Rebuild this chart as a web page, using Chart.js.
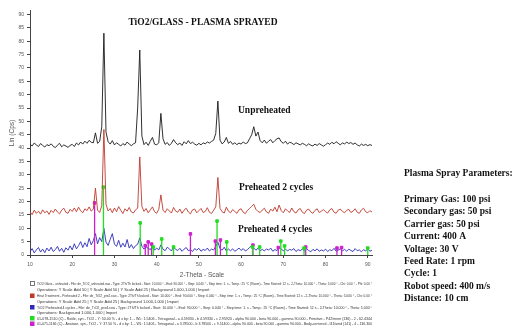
<!DOCTYPE html>
<html>
<head>
<meta charset="utf-8">
<style>
  html, body { margin: 0; padding: 0; background: #fff; }
  #wrap { width: 512px; height: 329px; position: relative; }
</style>
<script src="https://cdn.jsdelivr.net/npm/chart.js@4.4.1/dist/chart.umd.min.js"></script>
</head>
<body>
<div id="wrap"><canvas id="xrd" width="512" height="329"></canvas></div>
<script>
// 2-theta positions of the scan (degrees)
const angles = [
  10, 10.5, 11, 11.5, 12, 12.5, 13, 13.5, 14, 14.5,
  15, 15.5, 16, 16.5, 17, 17.5, 18, 18.5, 19, 19.5,
  20, 20.5, 21, 21.5, 22, 22.5, 23, 23.5, 24, 24.5,
  25, 25.5, 26, 26.5, 27, 27.5, 28, 28.5, 29, 29.5,
  30, 30.5, 31, 31.5, 32, 32.5, 33, 33.5, 34, 34.5,
  35, 35.5, 36, 36.5, 37, 37.5, 38, 38.5, 39, 39.5,
  40, 40.5, 41, 41.5, 42, 42.5, 43, 43.5, 44, 44.5,
  45, 45.5, 46, 46.5, 47, 47.5, 48, 48.5, 49, 49.5,
  50, 50.5, 51, 51.5, 52, 52.5, 53, 53.5, 54, 54.5,
  55, 55.5, 56, 56.5, 57, 57.5, 58, 58.5, 59, 59.5,
  60, 60.5, 61, 61.5, 62, 62.5, 63, 63.5, 64, 64.5,
  65, 65.5, 66, 66.5, 67, 67.5, 68, 68.5, 69, 69.5,
  70, 70.5, 71, 71.5, 72, 72.5, 73, 73.5, 74, 74.5,
  75, 75.5, 76, 76.5, 77, 77.5, 78, 78.5, 79, 79.5,
  80, 80.5, 81, 81.5, 82, 82.5, 83, 83.5, 84, 84.5,
  85, 85.5, 86, 86.5, 87, 87.5, 88, 88.5, 89, 89.5,
  90, 90.5, 91
];

// Lin (Cps), patterns already offset as in the plot
const unpreheated = [
  41.5, 40.8, 41.9, 41.2, 40.6, 41.7, 41.0, 40.4, 41.3, 40.9,
  41.6, 40.7, 40.2, 41.1, 41.8, 40.5, 41.2, 40.8, 40.3, 41.0,
  41.4, 40.6, 41.9, 41.2, 42.3, 41.5, 42.6, 41.8, 42.9, 42.2,
  42.0, 45.7, 41.8, 42.5, 48.0, 83.0, 46.0, 42.4, 41.5, 42.8,
  41.2, 42.0, 41.4, 40.8, 41.7, 41.1, 42.3, 41.5, 40.9, 41.6,
  42.0, 55.0, 76.7, 44.5, 41.3, 42.2, 41.0, 42.6, 44.0, 41.5,
  41.2, 42.0, 53.0, 43.5, 41.4, 42.1, 41.0, 41.8, 43.2, 42.0,
  41.3, 41.9, 41.0, 42.4, 41.6, 42.8, 41.7, 42.2, 41.5, 41.1,
  41.8, 41.2, 42.0, 41.6, 42.3, 41.9, 42.5, 43.0, 45.5, 57.6,
  43.0, 41.6, 42.3, 44.0, 41.8, 42.5, 41.4, 42.0, 41.3, 41.9,
  41.5, 42.3, 41.7, 42.0, 43.5, 45.0, 48.0, 44.5, 46.0, 42.8,
  42.0, 43.0, 41.8, 42.6, 43.2, 42.0, 42.8, 43.5, 43.8, 42.4,
  41.8, 42.6, 41.5, 42.2, 41.9, 41.3, 42.0, 41.6, 41.2, 41.8,
  41.4, 40.9, 41.6, 41.1, 40.8, 41.5, 41.0, 41.7, 41.2, 40.7,
  41.3, 41.9, 41.4, 42.2, 41.6, 42.4, 41.8, 41.2, 42.0, 41.5,
  42.3, 41.7, 42.1, 41.4, 41.9, 41.2, 40.8, 41.5, 41.0, 41.4,
  40.9, 41.3, 41.0
];

const preheated2 = [
  16.2, 15.1, 16.8, 15.6, 16.4, 15.3, 16.9, 15.8, 16.5, 15.2,
  16.7, 15.9, 17.2, 16.1, 15.4, 16.8, 17.5, 16.0, 15.6, 17.1,
  16.3, 17.6, 16.2, 17.9, 16.5, 15.8, 17.3, 16.6, 18.0, 16.4,
  17.2, 25.0, 16.8, 15.9, 18.5, 47.0, 19.0, 16.5, 17.4, 15.8,
  17.6, 16.2, 18.1, 16.7, 15.5, 17.3, 16.4, 17.8, 16.1, 15.7,
  16.9, 17.5, 36.7, 18.2, 16.3, 17.4, 15.8, 16.9, 18.0, 16.2,
  15.6, 17.1, 22.5, 16.8, 15.9, 17.3, 16.5, 15.7, 17.8, 16.4,
  16.0, 17.2, 15.6, 16.8, 17.5, 16.1, 15.4, 16.9, 17.2, 15.8,
  16.6, 17.4, 15.9, 16.3, 17.7, 16.0, 15.5, 16.8, 18.0, 29.0,
  17.5, 16.2, 15.7, 17.9, 16.4, 15.8, 17.0, 16.3, 15.6, 16.9,
  17.3, 16.0, 15.5, 16.7, 17.4, 18.2, 19.0, 17.1, 16.3, 15.9,
  16.8, 17.5, 16.1, 15.6, 17.2, 16.4, 17.9, 16.2, 18.7, 16.6,
  15.8, 17.3, 16.5, 15.9, 17.6, 16.2, 15.7, 16.9, 17.4, 16.0,
  15.5, 16.8, 17.2, 16.1, 15.6, 16.7, 17.3, 15.9, 16.4, 17.0,
  16.2, 15.7, 16.9, 17.4, 16.0, 15.6, 16.8, 17.2, 16.3, 15.8,
  16.7, 17.1, 15.9, 16.4, 17.3, 16.0, 15.6, 16.9, 17.5, 16.2,
  15.8, 16.6, 16.1
];

const preheated4 = [
  1.2, 2.4, 0.8, 1.9, 2.8, 1.1, 2.2, 0.9, 2.6, 1.5,
  2.9, 1.3, 2.0, 3.2, 1.4, 2.5, 1.0, 2.7, 1.8, 3.4,
  1.9, 4.2, 2.3, 3.5, 5.0, 2.8, 4.6, 3.1, 6.2, 3.8,
  5.4, 8.0, 4.2, 6.5, 5.0, 10.0, 4.8, 3.6, 5.9, 8.0,
  4.1, 3.2, 5.5, 2.9, 4.4, 3.0, 5.8, 2.6, 3.9, 2.4,
  3.5, 4.0, 6.4, 3.3, 2.2, 3.0, 2.5, 2.0, 3.4, 1.8,
  2.6, 1.9, 3.8, 2.2, 1.6, 2.9, 2.3, 1.5, 3.0, 2.1,
  1.7, 2.5, 1.4, 2.2, 2.8, 1.6, 2.0, 1.3, 2.4, 1.8,
  2.5, 1.4, 2.1, 1.7, 2.6, 1.5, 2.2, 1.9, 3.2, 4.8,
  2.4, 1.8, 2.9, 1.5, 2.2, 1.6, 2.3, 1.4, 1.9, 2.6,
  1.7, 2.4, 1.5, 2.0, 2.8, 3.5, 2.6, 1.8, 2.5, 1.6,
  2.1, 1.5, 2.3, 1.8, 2.6, 1.4, 2.0, 1.7, 2.9, 2.2,
  1.6, 2.3, 1.5, 2.1, 1.8, 2.4, 1.3, 2.0, 1.6, 2.2,
  1.5, 2.4, 1.7, 1.2, 2.1, 1.6, 2.3, 1.4, 1.9, 1.5,
  2.2, 1.3, 2.0, 1.6, 2.5, 1.4, 1.8, 2.3, 1.5, 2.1,
  1.4, 2.2, 1.7, 1.3, 2.4, 1.6, 1.9, 1.2, 2.0, 1.5,
  2.3, 1.4, 1.8
];

// reference pattern sticks (phase ID)
const rutileAngles = [27.4, 36.1, 39.2, 41.2, 44.0, 54.3, 56.6, 62.7, 64.4, 69.4, 70.3, 74.9, 90.0];
const rutileHeights = [25.4, 12.0, 3.0, 6.0, 3.0, 12.7, 4.9, 3.0, 3.0, 5.2, 3.4, 2.6, 2.6];
const anataseAngles = [25.3, 37.3, 38.0, 38.8, 48.0, 53.9, 55.1, 62.8, 68.8, 75.3, 82.7, 83.8];
const anataseHeights = [19.5, 3.5, 4.9, 4.1, 7.9, 5.2, 5.6, 3.7, 2.8, 3.0, 2.6, 2.8];

const xTicks = [10, 20, 30, 40, 50, 60, 70, 80, 90];
const yTicks = [0, 5, 10, 15, 20, 25, 30, 35, 40, 45, 50, 55, 60, 65, 70, 75, 80, 85, 90];

const chartTitle = 'TiO2/GLASS - PLASMA SPRAYED';
const seriesLabels = ['Unpreheated', 'Preheated 2 cycles', 'Preheated 4 cycles'];
const paramTitle = 'Plasma Spray Parameters:';
const paramLines = [
  'Primary Gas: 100 psi',
  'Secondary gas: 50 psi',
  'Carrier gas: 50 psi',
  'Current: 400 A',
  'Voltage: 30 V',
  'Feed Rate: 1 rpm',
  'Cycle: 1',
  'Robot speed: 400 m/s',
  'Distance: 10 cm'
];
const legendRows = [
  ['TiO2 Glass - unheated - File: de_TiO2_unheated.raw - Type: 2Th/Th locked - Start: 10.000 ° - End: 90.000 ° - Step: 0.040 ° - Step time: 1. s - Temp.: 25 °C (Room) - Time Started: 12 s - 2-Theta: 10.000 ° - Theta: 5.000 ° - Chi: 0.00 ° - Phi: 0.00 °', '#777', true],
  ['Operations: Y Scale Add 50 | Y Scale Add 50 | Y Scale Add 25 | Background 1.000,1.000 | Import', null, false],
  ['Heat Treatment - Preheated 2 - File: de_TiO2_pre2.raw - Type: 2Th/Th locked - Start: 10.000 ° - End: 90.000 ° - Step: 0.040 ° - Step time: 1. s - Temp.: 25 °C (Room) - Time Started: 12 s - 2-Theta: 10.000 ° - Theta: 5.000 ° - Chi: 0.00 °', '#c0392b', false],
  ['Operations: Y Scale Add 25 | Y Scale Add 25 | Background 1.000,1.000 | Import', null, false],
  ['TiO2 Preheated 4 cycles - File: de_TiO2_pre4.raw - Type: 2Th/Th locked - Start: 10.000 ° - End: 90.000 ° - Step: 0.040 ° - Step time: 1. s - Temp.: 25 °C (Room) - Time Started: 12 s - 2-Theta: 10.000 ° - Theta: 5.000 °', '#2b2bb8', false],
  ['Operations: Background 1.000,1.000 | Import', null, false],
  ['01-078-1510 (C) - Rutile, syn - TiO2 - Y: 50.00 % - d x by: 1. - WL: 1.5406 - Tetragonal - a 4.59330 - b 4.59330 - c 2.95920 - alpha 90.000 - beta 90.000 - gamma 90.000 - Primitive - P42/mnm (136) - 2 - 62.4344', '#22dd22', false],
  ['01-071-1166 (C) - Anatase, syn - TiO2 - Y: 37.50 % - d x by: 1. - WL: 1.5406 - Tetragonal - a 3.78500 - b 3.78500 - c 9.51400 - alpha 90.000 - beta 90.000 - gamma 90.000 - Body-centered - I41/amd (141) - 4 - 136.300', '#cc22cc', false]
];

function points(xs, ys) {
  return xs.map((x, i) => ({ x: x, y: ys[i] }));
}
function sticks(xs, ys) {
  const out = [];
  xs.forEach((x, i) => {
    out.push({ x: x, y: 0 }, { x: x, y: ys[i] }, { x: x, y: null });
  });
  return out;
}

const textPlugin = {
  id: 'xrdText',
  afterDraw(chart) {
    const ctx = chart.ctx;
    ctx.save();
    ctx.fillStyle = '#111';
    ctx.textBaseline = 'alphabetic';
    ctx.font = 'bold 9.5px "Liberation Serif"';
    ctx.textAlign = 'center';
    ctx.fillText(chartTitle, 203, 25);
    ctx.textAlign = 'left';
    ctx.fillText(seriesLabels[0], 238, 113);
    ctx.fillText(seriesLabels[1], 239, 190);
    ctx.fillText(seriesLabels[2], 238, 232);

    ctx.fillText(paramTitle, 404, 176);
    paramLines.forEach((t, i) => ctx.fillText(t, 404, 202 + i * 12.4));

    // axis titles
    ctx.fillStyle = '#555';
    ctx.font = '6.5px "Liberation Sans"';
    ctx.textAlign = 'center';
    ctx.textBaseline = 'middle';
    ctx.fillText('2-Theta - Scale', 202, 275);
    ctx.save();
    ctx.translate(12, 133);
    ctx.rotate(-Math.PI / 2);
    ctx.fillText('Lin (Cps)', 0, 0);
    ctx.restore();

    // instrument legend
    ctx.textAlign = 'left';
    ctx.font = '4px "Liberation Sans"';
    const ys = [284, 290, 296, 302, 307.5, 313, 318.5, 324];
    legendRows.forEach((row, i) => {
      const y = ys[i];
      if (row[1]) {
        if (row[2]) {
          ctx.strokeStyle = '#555';
          ctx.lineWidth = 0.8;
          ctx.strokeRect(30.5, y - 2.5, 4, 4);
        } else {
          ctx.fillStyle = row[1];
          ctx.fillRect(30, y - 2.5, 4.5, 4.5);
        }
      }
      ctx.fillStyle = '#333';
      const maxW = row[1] ? 335 : 220;
      ctx.fillText(row[0], 37, y, maxW);
    });
    ctx.restore();
  }
};

new Chart(document.getElementById('xrd'), {
  type: 'line',
  data: {
    datasets: [
      { label: 'Unpreheated', data: points(angles, unpreheated), borderColor: '#1a1a1a', borderWidth: 0.9, pointRadius: 0, tension: 0 },
      { label: 'Preheated 2 cycles', data: points(angles, preheated2), borderColor: '#c0392b', borderWidth: 0.9, pointRadius: 0, tension: 0 },
      { label: 'Rutile tops', data: points(rutileAngles, rutileHeights), showLine: false, pointStyle: 'rect', pointRadius: 1.8, pointBackgroundColor: '#22dd22', pointBorderColor: '#22dd22' },
      { label: 'Anatase tops', data: points(anataseAngles, anataseHeights), showLine: false, pointStyle: 'rect', pointRadius: 1.8, pointBackgroundColor: '#cc22cc', pointBorderColor: '#cc22cc' },
      { label: 'Rutile', data: sticks(rutileAngles, rutileHeights), borderColor: '#22dd22', borderWidth: 1.3, pointRadius: 0, spanGaps: false },
      { label: 'Anatase', data: sticks(anataseAngles, anataseHeights), borderColor: '#cc22cc', borderWidth: 1.3, pointRadius: 0, spanGaps: false },
      { label: 'Preheated 4 cycles', data: points(angles, preheated4), borderColor: '#2b2bb8', borderWidth: 0.9, pointRadius: 0, tension: 0 }
    ]
  },
  options: {
    responsive: false,
    animation: false,
    events: [],
    layout: { padding: { left: 0, right: 140, top: 10.5, bottom: 0 } },
    plugins: { legend: { display: false }, tooltip: { enabled: false }, title: { display: false } },
    scales: {
      x: {
        type: 'linear',
        min: 10,
        max: 91,
        afterBuildTicks(scale) { scale.ticks = xTicks.map(v => ({ value: v })); },
        afterFit(scale) { scale.height = 74; },
        border: { display: true, color: '#444', width: 1 },
        grid: { drawOnChartArea: false, color: '#444', tickLength: 3 },
        ticks: { color: '#555', font: { size: 5, family: 'Liberation Sans' }, padding: 4, maxRotation: 0 }
      },
      y: {
        type: 'linear',
        min: 0,
        max: 91.5,
        afterBuildTicks(scale) { scale.ticks = yTicks.map(v => ({ value: v })); },
        afterFit(scale) { scale.width = 30; },
        border: { display: true, color: '#444', width: 1 },
        grid: { drawOnChartArea: false, color: '#444', tickLength: 3 },
        ticks: { color: '#555', font: { size: 5, family: 'Liberation Sans' }, padding: 3 }
      }
    }
  },
  plugins: [textPlugin]
});
</script>
</body>
</html>
